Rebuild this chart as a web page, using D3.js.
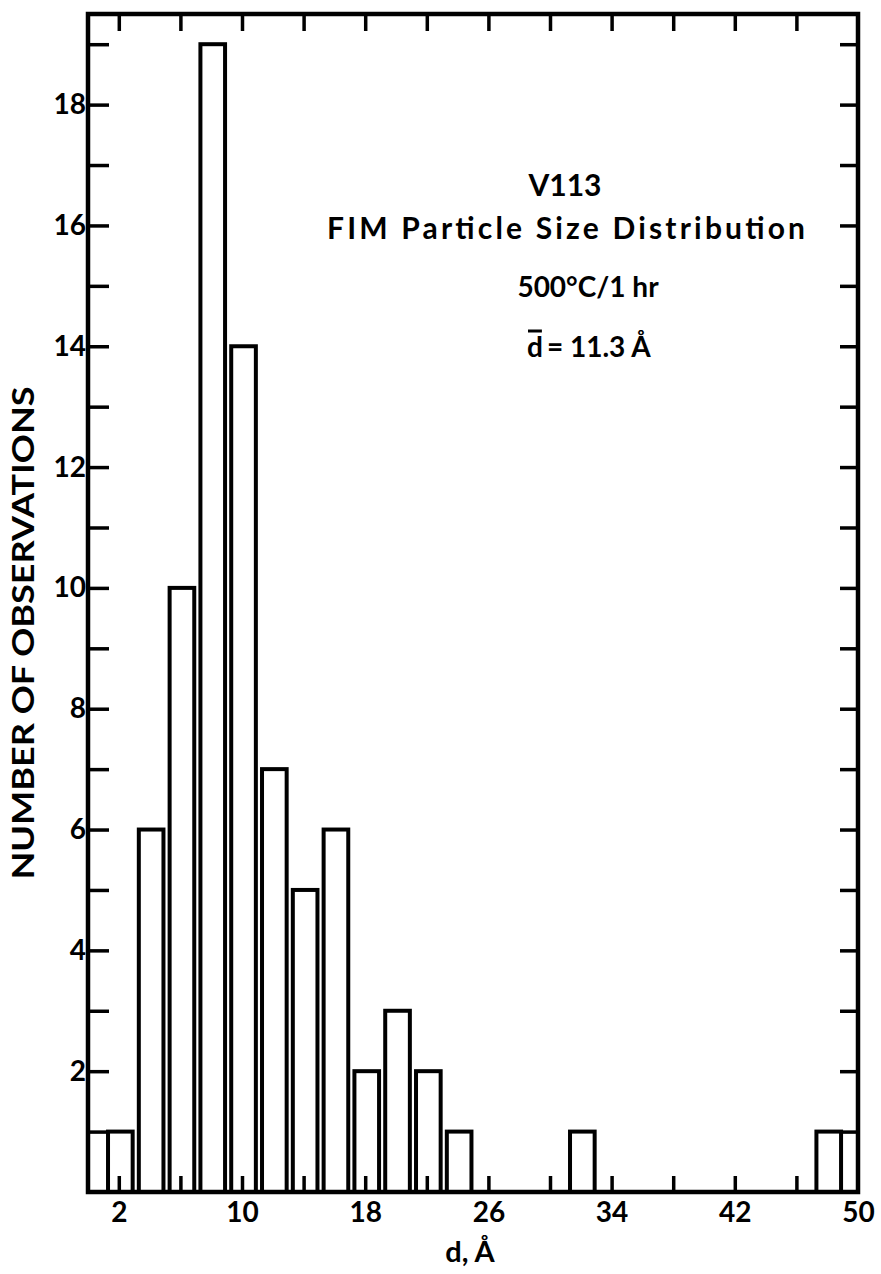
<!DOCTYPE html>
<html>
<head>
<meta charset="utf-8">
<script src="https://cdn.jsdelivr.net/npm/d3@7"></script>
<style>
  html, body { margin: 0; padding: 0; background: #fff; }
  svg { display: block; }
  text { font-family: "Lato", "DejaVu Sans", sans-serif; font-weight: 700; fill: #000; }
</style>
</head>
<body>
<svg id="chart" width="881" height="1274"></svg>
<script>
// Particle diameter bins (Å) and number of particles observed in each
const diameters = [2, 4, 6, 8, 10, 12, 14, 16, 18, 20, 22, 24, 32, 48];
const counts    = [1, 6, 10, 19, 14, 7, 5, 6, 2, 3, 2, 1, 1, 1];

const xTickLabels = [2, 10, 18, 26, 34, 42, 50];
const xMinorTicks = [2, 6, 10, 14, 18, 22, 26, 30, 34, 38, 42, 46];
const yTickLabels = [2, 4, 6, 8, 10, 12, 14, 16, 18];
const yMinorTicks = d3.range(1, 20);

const annotation = ["V113", "FIM Particle Size Distribution", "500°C/1 hr"];
const meanDiameter = 11.3;

const svg = d3.select("#chart");
const plotLeft = 88, plotRight = 858, plotTop = 14, plotBottom = 1192;

const x = d3.scaleLinear().domain([0, 50]).range([plotLeft, plotRight]);
const y = d3.scaleLinear().domain([0, 19.5]).range([plotBottom, plotTop]);

const bins = diameters.map((d, i) => ({ d, n: counts[i] }));
const halfW = 0.8;

// Histogram bars, drawn as open outlines
svg.append("g")
  .selectAll("rect")
  .data(bins)
  .join("rect")
  .attr("x", b => x(b.d - halfW + 0.1))
  .attr("y", b => y(b.n))
  .attr("width", b => x(b.d + halfW + 0.1) - x(b.d - halfW + 0.1))
  .attr("height", b => y(0) - y(b.n))
  .attr("fill", "none")
  .attr("stroke", "#000")
  .attr("stroke-width", 4);

// Inward tick marks on all four sides
const tickStyle = g => {
  g.select(".domain").remove();
  g.selectAll(".tick line").attr("stroke", "#000").attr("stroke-width", 3.5);
  g.selectAll("text").remove();
};

svg.append("g").attr("transform", `translate(0,${plotBottom})`)
  .call(d3.axisBottom(x).tickValues(xMinorTicks).tickSize(-16))
  .call(tickStyle);
svg.append("g").attr("transform", `translate(0,${plotTop})`)
  .call(d3.axisTop(x).tickValues(xMinorTicks).tickSize(-17))
  .call(tickStyle);
svg.append("g").attr("transform", `translate(${plotLeft},0)`)
  .call(d3.axisLeft(y).tickValues(yMinorTicks).tickSize(-21))
  .call(tickStyle);
svg.append("g").attr("transform", `translate(${plotRight},0)`)
  .call(d3.axisRight(y).tickValues(yMinorTicks).tickSize(-18))
  .call(tickStyle);

// Tick labels
const labelStyle = g => {
  g.select(".domain").remove();
  g.selectAll(".tick line").remove();
  g.selectAll("text").style("font-size", "28px").attr("fill", "#000");
};
svg.append("g").attr("transform", `translate(0,${plotBottom})`)
  .call(d3.axisBottom(x).tickValues(xTickLabels).tickSize(0).tickPadding(10))
  .call(labelStyle);
svg.append("g").attr("transform", `translate(${plotLeft},0)`)
  .call(d3.axisLeft(y).tickValues(yTickLabels).tickSize(0).tickPadding(2))
  .call(labelStyle);

// Plot frame
svg.append("rect")
  .attr("x", plotLeft).attr("y", plotTop)
  .attr("width", plotRight - plotLeft).attr("height", plotBottom - plotTop)
  .attr("fill", "none").attr("stroke", "#000").attr("stroke-width", 4.5);

// Axis titles
svg.append("text")
  .attr("x", (plotLeft + plotRight) / 2 - 3).attr("y", 1262)
  .attr("text-anchor", "middle")
  .style("font-size", "29px")
  .text("d, Å");

svg.append("text")
  .attr("transform", `translate(34,633) rotate(-90)`)
  .attr("text-anchor", "middle")
  .style("font-size", "30px")
  .attr("textLength", 493).attr("lengthAdjust", "spacingAndGlyphs")
  .text("NUMBER OF OBSERVATIONS");

// Annotation block
const note = svg.append("g").style("font-size", "30px");
note.append("text").attr("x", 565).attr("y", 196).attr("text-anchor", "middle")
  .text(annotation[0]);
note.append("text").attr("x", 566).attr("y", 239).attr("text-anchor", "middle")
  .attr("textLength", 478).attr("lengthAdjust", "spacing")
  .text(annotation[1]);
note.append("text").attr("x", 588).attr("y", 297).attr("text-anchor", "middle")
  .style("font-size", "28px")
  .text(annotation[2]);

// mean diameter: "d" with an overbar, then the value
const dSym = note.append("text").attr("x", 527).attr("y", 357)
  .style("font-size", "28px").text("d");
const dBox = dSym.node().getBBox();
note.append("line")
  .attr("x1", dBox.x + 1).attr("x2", dBox.x + dBox.width - 1)
  .attr("y1", dBox.y + 2).attr("y2", dBox.y + 2)
  .attr("stroke", "#000").attr("stroke-width", 3);
note.append("text").attr("x", dBox.x + dBox.width + 4).attr("y", 357)
  .style("font-size", "28px")
  .text(`= ${meanDiameter} Å`);
</script>
</body>
</html>
